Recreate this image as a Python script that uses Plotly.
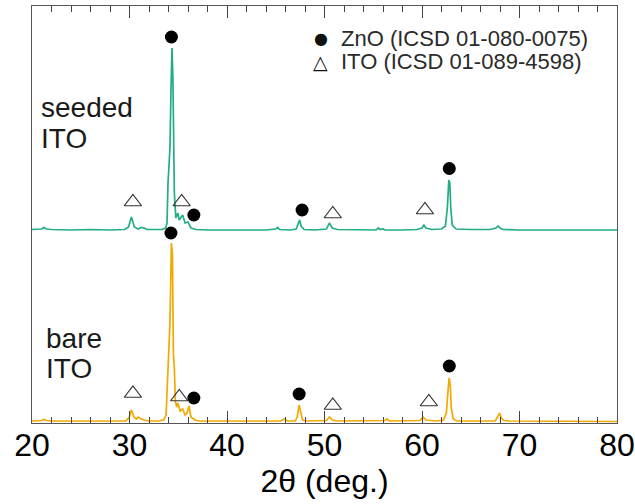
import plotly.graph_objects as go

# ---- digitized XRD patterns (2theta in degrees, intensity in arbitrary offset units) ----
seeded_2theta = [20.0, 21.0, 21.2, 21.5, 22.0, 24.0, 26.0, 28.0, 29.5, 29.9, 30.2, 30.5, 30.9, 31.2, 31.5, 31.8,
                 32.5, 33.3, 33.7, 33.85, 33.95, 34.05, 34.15, 34.25, 34.36, 34.45, 34.52, 34.6, 34.75, 34.95,
                 35.1, 35.25, 35.45, 35.7, 36.0, 36.3, 36.8, 38.0, 40.0, 42.0, 44.0, 45.0, 45.2, 45.4, 46.5,
                 47.1, 47.3, 47.45, 47.6, 47.9, 49.0, 50.2, 50.5, 50.8, 51.3, 53.0, 55.3, 55.5, 55.7, 56.0,
                 56.2, 58.0, 59.5, 60.0, 60.2, 60.4, 61.0, 62.0, 62.4, 62.6, 62.75, 62.85, 62.95, 63.1, 63.5,
                 65.0, 67.0, 67.6, 67.8, 68.0, 68.3, 70.0, 72.0, 74.0, 76.0, 78.0, 80.0]
seeded_int = [193.5, 194, 195.5, 194, 193.5, 193, 193.5, 193, 193.5, 196, 206, 196, 194, 195.5, 195, 193.5,
              193.5, 193.5, 195, 200, 240, 255, 275, 330, 375, 345, 262, 230, 205, 210,
              203, 205, 208, 200, 201, 195, 193.5, 193, 193, 193.5, 193, 194, 195.5, 193.5, 193,
              194, 199, 203, 197, 193.5, 193, 194, 200, 195, 193.5, 193, 193, 195, 193.5, 194,
              193, 193, 193.5, 195, 198, 195, 193.5, 194, 197, 215, 243, 240, 215, 198, 194,
              193.5, 193.5, 195, 197, 195, 193.5, 193, 193, 193.5, 193, 193, 193]

bare_2theta = [20.0, 21.0, 21.2, 21.5, 22.0, 24.0, 26.0, 28.0, 29.6, 29.95, 30.2, 30.45, 30.7, 30.9, 31.2,
               31.5, 32.0, 33.0, 33.5, 33.75, 33.9, 34.0, 34.15, 34.3, 34.4, 34.5, 34.6, 34.7, 34.85, 34.95,
               35.2, 35.45, 35.7, 35.9, 36.1, 36.3, 36.7, 37.2, 40.0, 43.0, 45.5, 45.9, 46.2, 47.0, 47.2,
               47.4, 47.55, 47.75, 48.2, 50.2, 50.5, 50.8, 51.3, 54.0, 56.2, 56.4, 56.7, 59.8, 60.1, 60.4,
               61.5, 62.2, 62.5, 62.65, 62.78, 62.9, 63.0, 63.2, 63.6, 66.0, 67.5, 67.75, 67.95, 68.15,
               68.4, 69.0, 72.0, 76.0, 80.0]
bare_int = [2, 2.5, 3.5, 2.5, 2, 2, 2, 2, 2, 5, 13, 6, 4, 6, 4,
            3, 2, 2, 3, 8, 50, 68, 100, 180, 170, 70, 55, 22, 16, 20,
            12, 14, 8, 10, 17, 6, 3, 2, 2, 2, 2, 4, 2, 2, 6,
            18, 12, 3, 2, 2.5, 6, 3, 2, 2, 2.5, 4, 2, 2.5, 6, 3,
            2, 3, 10, 30, 45, 38, 15, 4, 2, 2, 2, 6, 10, 5,
            2.5, 2, 2, 1.5, 1.5]

# reflection markers (ZnO filled circles, ITO open triangles), for both patterns
zno_2theta = [34.3, 36.6, 47.7, 62.8, 34.25, 36.6, 47.4, 62.8]
zno_int = [386, 208, 213, 254.5, 190, 25, 29, 57]
ito_2theta = [30.35, 35.35, 50.85, 60.3, 30.35, 35.1, 50.85, 60.7]
ito_int = [221, 221, 209, 213, 29.5, 26, 17.5, 21]

x_ticks = [20, 30, 40, 50, 60, 70, 80]
legend_labels = ["ZnO (ICSD 01-080-0075)", "ITO (ICSD 01-089-4598)"]
sample_labels = [("seeded", "ITO"), ("bare", "ITO")]

GREEN = "#21ad86"
ORANGE = "#f2a900"
FONT = "Liberation Sans, Arial, sans-serif"

fig = go.Figure()
fig.add_trace(go.Scatter(x=seeded_2theta, y=seeded_int, mode="lines",
                         line=dict(color=GREEN, width=1.7), showlegend=False))
fig.add_trace(go.Scatter(x=bare_2theta, y=bare_int, mode="lines",
                         line=dict(color=ORANGE, width=1.7), showlegend=False))
fig.add_trace(go.Scatter(x=zno_2theta, y=zno_int, mode="markers",
                         marker=dict(symbol="circle", size=13, color="black"), showlegend=False))
fig.add_trace(go.Scatter(x=ito_2theta, y=ito_int, mode="markers",
                         marker=dict(symbol="triangle-up-open", size=15, color="#333",
                                     line=dict(width=1.2, color="#333")), showlegend=False))

# sample labels
ann = []
for (l1, l2), (xp, y1, y2) in zip(sample_labels, [(0.0137, 0.7566, 0.6823), (0.022, 0.2026, 0.1295)]):
    for txt, yp in [(l1, y1), (l2, y2)]:
        ann.append(dict(text=txt, x=xp, y=yp, xref="paper", yref="paper", xanchor="left",
                        yanchor="middle", showarrow=False, borderpad=0,
                        font=dict(size=28, color="#1a1a1a", family=FONT)))

# legend as text annotations
for sym, symsize, label, yp in [("●", 16, legend_labels[0], 0.923), ("△", 19, legend_labels[1], 0.866)]:
    ann.append(dict(text=sym, x=0.494, y=yp, xref="paper", yref="paper", xanchor="center", yanchor="middle",
                    showarrow=False, font=dict(size=symsize, color="#111", family="DejaVu Sans")))
    ann.append(dict(text=label, x=0.525, y=yp, xref="paper", yref="paper", xanchor="left", yanchor="middle",
                    showarrow=False, font=dict(size=22, color="#2a2a2a", family=FONT)))

fig.update_layout(
    width=635, height=504,
    margin=dict(l=32, r=18, t=6, b=81, autoexpand=False),
    paper_bgcolor="white", plot_bgcolor="white",
    font=dict(family=FONT, color="black"),
    annotations=ann,
    xaxis=dict(range=[20, 80], tickvals=x_ticks, ticks="inside", ticklen=12, tickwidth=1,
               tickcolor="#444", showline=True, linecolor="#555", linewidth=1, mirror="ticks",
               showgrid=False, zeroline=False, tickfont=dict(size=32, color="black"), automargin=False,
               ticklabelstandoff=-6,
               minor=dict(dtick=2, ticks="inside", ticklen=6, tickcolor="#444", showgrid=False),
               title=dict(text="2θ (deg.)", font=dict(size=32, color="black"), standoff=0)),
    yaxis=dict(range=[0, 417], showticklabels=False, ticks="", showline=True, linecolor="#555",
               linewidth=1, mirror=True, showgrid=False, zeroline=False, automargin=False),
)

fig.write_html("out.html")
